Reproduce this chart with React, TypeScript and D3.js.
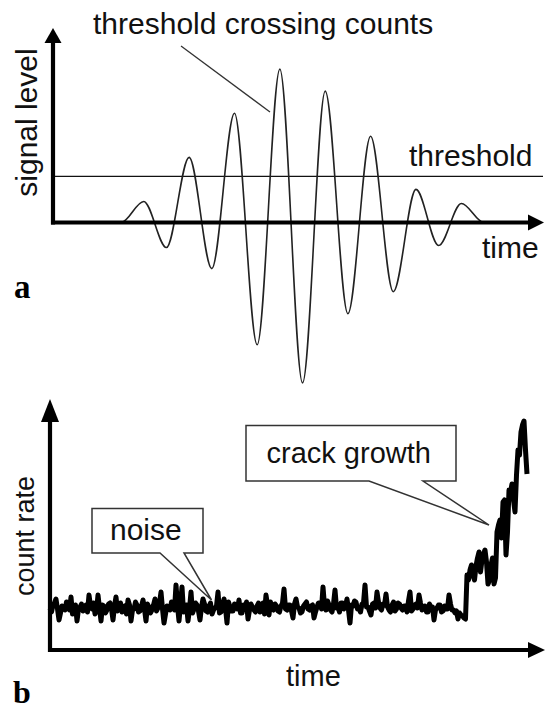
import React from 'react';
import * as d3 from 'd3';

// ---- Panel a: burst waveform (extrema) ----
// time in oscillation periods, signal level in arbitrary units
const burstTime = [1.1, 1.5, 2, 2.5, 3, 3.5, 4, 4.5, 5, 5.5, 6, 6.5, 7, 7.5, 8, 8.5, 9, 9.5, 9.8];
const burstSignal = [0, 0, 21, -25, 65, -46, 109, -122, 153, -160, 131, -91, 86, -69, 33, -23, 19, 0, 0];
const thresholdLevel = 46;
const timeMaxA = 10.8;
const signalMaxA = 194;

// ---- Panel b: acoustic emission count rate over time (one value per time step) ----
const countRate = [
  42, 38, 45, 47, 51, 41, 30, 37, 44, 43, 40, 48, 46, 40, 53, 36, 38, 45, 29, 41,
  43, 46, 39, 40, 45, 38, 55, 44, 41, 47, 36, 39, 55, 42, 29, 45, 44, 37, 40, 46,
  47, 41, 30, 44, 53, 39, 42, 47, 38, 42, 44, 36, 50, 45, 29, 40, 41, 48, 45, 38,
  39, 44, 50, 41, 29, 46, 43, 37, 40, 45, 51, 39, 42, 47, 58, 41, 27, 36, 44, 43,
  40, 48, 46, 40, 65, 44, 29, 46, 63, 38, 40, 45, 29, 41, 58, 37, 41, 47, 45, 39,
  30, 43, 51, 46, 39, 38, 44, 47, 36, 40, 42, 44, 58, 37, 38, 45, 51, 42, 27, 48,
  43, 39, 39, 46, 45, 41, 50, 37, 37, 45, 42, 48, 31, 40, 46, 43, 40, 38, 44, 47,
  38, 42, 47, 36, 55, 45, 35, 48, 42, 40, 46, 44, 39, 38, 44, 47, 61, 41, 40, 45,
  45, 39, 32, 46, 51, 43, 42, 37, 38, 44, 46, 48, 41, 40, 44, 45, 32, 38, 43, 47,
  47, 41, 63, 44, 40, 49, 45, 40, 38, 46, 60, 42, 43, 38, 47, 47, 41, 44, 51, 40,
  27, 45, 44, 49, 48, 41, 42, 38, 46, 47, 65, 43, 43, 39, 35, 46, 47, 42, 58, 48,
  42, 40, 46, 45, 56, 43, 40, 38, 45, 48, 39, 41, 47, 46, 42, 40, 44, 44, 38, 49,
  58, 39, 41, 45, 46, 42, 55, 47, 40, 41, 44, 38, 38, 46, 43, 43, 30, 40, 42, 45,
  45, 38, 39, 44, 41, 41, 55, 46, 40, 40, 37, 39, 31, 37, 35, 34, 32, 31, 75, 70,
  80, 85, 75, 70, 84, 92, 98, 78, 90, 96, 100, 88, 66, 70, 85, 92, 66, 72, 118, 125,
  130, 112, 148, 150, 95, 118, 160, 158, 166, 150, 138, 175, 200, 195, 218, 225, 229, 200, 176,
];
const timeMaxB = 330;
const countMaxB = 250;

// ---- Labels ----
const labelsA = {
  title: 'threshold crossing counts',
  threshold: 'threshold',
  xLabel: 'time',
  yLabel: 'signal level',
  panel: 'a',
};
const labelsB = {
  noise: 'noise',
  crack: 'crack growth',
  xLabel: 'time',
  yLabel: 'count rate',
  panel: 'b',
};

const SANS = '"Liberation Sans", Arial, sans-serif';
const SERIF = '"Liberation Serif", "Times New Roman", serif';
const INK = '#111';

export default function App() {
  // Panel a scales
  const xA = d3.scaleLinear().domain([0, timeMaxA]).range([53, 543]);
  const yA = d3.scaleLinear().domain([0, signalMaxA]).range([222.5, 28]);
  const burst = burstTime.map((t, i) => [t, burstSignal[i]] as [number, number]);
  const burstPath = d3
    .line<[number, number]>()
    .x((d) => xA(d[0]))
    .y((d) => yA(d[1]))
    .curve(d3.curveMonotoneX)(burst) as string;

  // Panel b scales
  const xB = d3.scaleLinear().domain([0, timeMaxB]).range([50, 545]);
  const yB = d3.scaleLinear().domain([0, countMaxB]).range([650, 400]);
  const ratePath = d3
    .line<number>()
    .x((_, i) => xB(i))
    .y((d) => yB(d))(countRate) as string;

  const [ax0] = xA.range();
  const [ay0, ayTop] = yA.range();
  const axEnd = xA.range()[1];
  const [bx0, bxEnd] = xB.range();
  const [by0, byTop] = yB.range();

  const crackCallout: [number, number][] = [
    [246, 425.5], [456, 425.5], [456, 481], [423, 481], [489, 525], [369, 481], [246, 481],
  ];
  const noiseCallout: [number, number][] = [
    [92, 508.5], [203, 508.5], [203, 553], [184, 553], [211.5, 600], [160, 553], [92, 553],
  ];
  const poly = (pts: [number, number][]) => pts.map((p) => p.join(',')).join(' ');

  return (
    <svg
      width={547}
      height={709}
      viewBox="0 0 547 709"
      style={{ position: 'absolute', left: 0, top: 0, background: '#fff' }}
    >
      <rect x={0} y={0} width={547} height={709} fill="#fff" />

      {/* ===== Panel a ===== */}
      <line x1={ax0} x2={axEnd} y1={yA(thresholdLevel)} y2={yA(thresholdLevel)} stroke={INK} strokeWidth={1.3} />
      <path d={burstPath} fill="none" stroke="#222" strokeWidth={1.6} />
      {/* axes */}
      <line x1={ax0} x2={ax0} y1={ay0 + 2} y2={ayTop + 14} stroke="#000" strokeWidth={4.2} />
      <polygon points={`${ax0},${ayTop} ${ax0 - 8.5},${ayTop + 15} ${ax0 + 8.5},${ayTop + 15}`} fill="#000" />
      <line x1={ax0 - 2} x2={axEnd - 14} y1={ay0} y2={ay0} stroke="#000" strokeWidth={4.2} />
      <polygon points={`${axEnd + 1},${ay0} ${axEnd - 15},${ay0 - 8} ${axEnd - 15},${ay0 + 8}`} fill="#000" />
      {/* leader */}
      <line x1={181} y1={46} x2={270} y2={112} stroke="#333" strokeWidth={1.3} />
      {/* texts */}
      <text x={93} y={34} fontFamily={SANS} fontSize={30} fill={INK}>{labelsA.title}</text>
      <text x={409} y={166} fontFamily={SANS} fontSize={30} fill={INK}>{labelsA.threshold}</text>
      <text x={482} y={258} fontFamily={SANS} fontSize={30} fill={INK}>{labelsA.xLabel}</text>
      <text
        x={0}
        y={0}
        transform="translate(37,122.5) rotate(-90)"
        textAnchor="middle"
        fontFamily={SANS}
        fontSize={30}
        fill={INK}
      >
        {labelsA.yLabel}
      </text>
      <text x={14} y={298} fontFamily={SERIF} fontWeight="bold" fontSize={33} fill="#000">{labelsA.panel}</text>

      {/* ===== Panel b ===== */}
      <line x1={bx0} x2={bx0} y1={by0 + 2} y2={byTop + 20} stroke="#000" strokeWidth={4.2} />
      <polygon points={`${bx0},${byTop - 1} ${bx0 - 9},${byTop + 22} ${bx0 + 9},${byTop + 22}`} fill="#000" />
      <line x1={bx0 - 2} x2={bxEnd - 14} y1={by0} y2={by0} stroke="#000" strokeWidth={4.2} />
      <polygon points={`${bxEnd},${by0} ${bxEnd - 17},${by0 - 8} ${bxEnd - 17},${by0 + 8}`} fill="#000" />

      <path d={ratePath} fill="none" stroke="#000" strokeWidth={5} strokeLinejoin="round" />

      <polygon points={poly(crackCallout)} fill="#fff" stroke="#333" strokeWidth={1.5} />
      <polygon points={poly(noiseCallout)} fill="#fff" stroke="#333" strokeWidth={1.5} />
      <text x={266.5} y={463} fontFamily={SANS} fontSize={29} fill={INK}>{labelsB.crack}</text>
      <text x={110} y={540} fontFamily={SANS} fontSize={30} fill={INK}>{labelsB.noise}</text>
      <text x={286} y={686} fontFamily={SANS} fontSize={29} fill={INK}>{labelsB.xLabel}</text>
      <text
        x={0}
        y={0}
        transform="translate(33.5,536) rotate(-90)"
        textAnchor="middle"
        fontFamily={SANS}
        fontSize={27}
        fill={INK}
      >
        {labelsB.yLabel}
      </text>
      <text x={13} y={703} fontFamily={SERIF} fontWeight="bold" fontSize={32} fill="#000">{labelsB.panel}</text>
    </svg>
  );
}
